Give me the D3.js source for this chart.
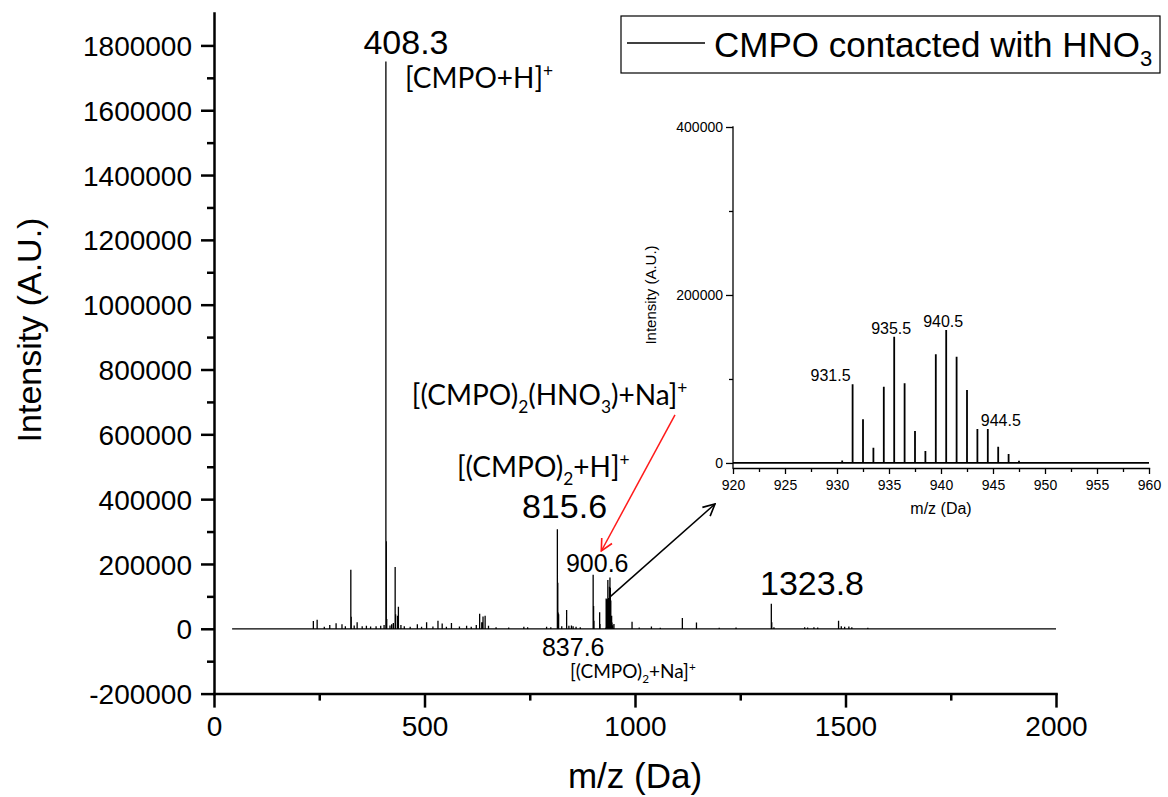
<!DOCTYPE html>
<html><head><meta charset="utf-8">
<script src="https://cdn.jsdelivr.net/npm/d3@7"></script>
<style>body{margin:0;background:#fff}</style>
</head><body><svg id="c" width="1168" height="797"></svg>
<script>
// ---------- data ----------
const mainMz = [236,245,262,275,290,304,312,325,326,333,340,352,362,372,385,396,404,408.3,409.3,410.3,418,422,426,430.3,431.3,436,438,444,452,466,483,493,505,520,532,542,552,564,583,600,611,623,631,636,639,644,652,670,700,736,745,790,800,815.6,816.6,817.6,818.6,826,837.6,843,849,853,860,870,900.6,901.6,902.6,916,917,950,993,1010,1039,1060,1112.5,1146,1200,1240,1323.8,1324.8,1330,1403,1410,1425,1434,1483.5,1490,1498,1508,1515,1553,1715,1735,1895];
const mainIntensity = [24000,28000,6000,12000,17000,14000,8000,182000,37000,10000,20000,8000,9000,7000,8000,9000,12000,1750000,270000,30000,10000,14000,18000,191000,45000,40000,68000,12000,8000,6000,14000,6000,20000,7000,25000,16000,6000,18000,7000,9000,6000,12000,46000,20000,38000,40000,9000,5000,4000,6000,5000,6000,5000,307000,142000,50000,45000,8000,58000,9000,10000,8000,6000,5000,167000,70000,25000,51000,15000,15000,22000,4000,7000,3000,33000,19000,3000,4000,77000,20000,5000,5000,4000,5000,4000,25000,8000,6000,7000,5000,3000,2000,2000,2000];
const clusterMz = [930.5,931.5,932.5,933.5,934.5,935.5,936.5,937.5,938.5,939.5,940.5,941.5,942.5,943.5,944.5,945.5,946.5,947.5];
const clusterIntensity = [3000,93700,52000,18200,90800,150400,94900,38100,14300,129400,158300,126600,86900,40500,40500,19400,10700,2500];
const spectrumStart = 43, spectrumEnd = 2000;
const insetStart = 920, insetEnd = 960;
const xTicks = [0,500,1000,1500,2000];
const xMinor = [250,750,1250,1750];
const yTicks = [-200000,0,200000,400000,600000,800000,1000000,1200000,1400000,1600000,1800000];
const yMinor = [-100000,100000,300000,500000,700000,900000,1100000,1300000,1500000,1700000];
const insetXTicks = [920,925,930,935,940,945,950,955,960];
const insetXMinor = [922.5,927.5,932.5,937.5,942.5,947.5,952.5,957.5];
const insetYTicks = [0,200000,400000];
const insetYMinor = [100000,300000];
const insetLabels = [[931.5,"931.5"],[935.5,"935.5"],[940.5,"940.5"],[944.5,"944.5"]];

// ---------- setup ----------
const svg = d3.select("#c");
const ARIAL = "'Liberation Sans', Arial, sans-serif";
const CAL = "Lato, 'Open Sans', sans-serif";
const fmt = d => String(Math.round(d));

const x = d3.scaleLinear().domain([0,2000]).range([214,1056]);
const y = d3.scaleLinear().domain([-200000,1900000]).range([693.6,13]);

const xi = d3.scaleLinear().domain([920,960]).range([733,1149]);
const yi = d3.scaleLinear().domain([-6000,400000]).range([468,127]);

function stickPoints(mz, inten, start, end, lo, hi){
  const pts = [[start,0]];
  const idx = d3.range(mz.length).filter(i=>mz[i]>=lo && mz[i]<=hi).sort((a,b)=>mz[a]-mz[b]);
  idx.forEach(i=>{pts.push([mz[i],0],[mz[i],inten[i]],[mz[i],0]);});
  pts.push([end,0]);
  return pts;
}

// ---------- main spectrum ----------
const allMz = mainMz.concat(clusterMz), allI = mainIntensity.concat(clusterIntensity);
const lineMain = d3.line().x(d=>x(d[0])).y(d=>y(d[1]));
svg.append("path").attr("d", lineMain(stickPoints(allMz, allI, spectrumStart, spectrumEnd, 0, 2000)))
  .attr("fill","none").attr("stroke","#000").attr("stroke-width",1.3);

// ---------- main axes ----------
function styleAxis(g, w, fs){
  g.selectAll("path.domain").attr("stroke","#000").attr("stroke-width",w).attr("stroke-linecap","square");
  g.selectAll(".tick line").attr("stroke","#000").attr("stroke-width",w);
  g.selectAll("text").attr("font-family",ARIAL).attr("font-size",fs).attr("fill","#000");
}
const gy = svg.append("g").attr("transform",`translate(${x(0)},0)`)
  .call(d3.axisLeft(y).tickValues(yTicks).tickFormat(fmt).tickSize(13).tickSizeOuter(0).tickPadding(9));
styleAxis(gy,2.5,28);
gy.selectAll("text").attr("dy","0.36em");
const gym = svg.append("g").attr("transform",`translate(${x(0)},0)`)
  .call(d3.axisLeft(y).tickValues(yMinor).tickFormat("").tickSize(7).tickSizeOuter(0));
styleAxis(gym,2.5,28); gym.select("path.domain").remove();

const gx = svg.append("g").attr("transform",`translate(0,${y(-200000)})`)
  .call(d3.axisBottom(x).tickValues(xTicks).tickFormat(fmt).tickSize(14).tickSizeOuter(0).tickPadding(9));
styleAxis(gx,2.5,28);
const gxm = svg.append("g").attr("transform",`translate(0,${y(-200000)})`)
  .call(d3.axisBottom(x).tickValues(xMinor).tickFormat("").tickSize(7).tickSizeOuter(0));
styleAxis(gxm,2.5,28); gxm.select("path.domain").remove();

svg.append("text").attr("transform","translate(41,330) rotate(-90)").attr("text-anchor","middle")
  .attr("font-family",ARIAL).attr("font-size",34).text("Intensity (A.U.)");
svg.append("text").attr("x",635).attr("y",788).attr("text-anchor","middle")
  .attr("font-family",ARIAL).attr("font-size",35).text("m/z (Da)");

// ---------- rich text helper ----------
function rich(xp, yp, segs, font, fs, anchor){
  const t = svg.append("text").attr("x",xp).attr("y",yp).attr("font-family",font).attr("font-size",fs)
    .attr("fill","#000").attr("text-anchor",anchor||"start");
  let shift = 0;
  segs.forEach(s=>{
    const [str, kind] = s;
    let target = kind==="sub" ? fs*0.28 : kind==="sup" ? -fs*0.38 : 0;
    t.append("tspan").attr("dy", target - shift).attr("font-size", kind ? fs*0.62 : fs).text(str);
    shift = target;
  });
  return t;
}

// ---------- annotations (positioned in data units) ----------
rich(x(456), y(1775000), [["408.3"]], ARIAL, 34, "middle");
rich(x(453.7), y(1670000), [["[CMPO+H]"],["+","sup"]], CAL, 28);
rich(x(470), y(691000), [["[(CMPO)"],["2","sub"],["(HNO"],["3","sub"],[")+Na]"],["+","sup"]], CAL, 28);
rich(x(577), y(468000), [["[(CMPO)"],["2","sub"],["+H]"],["+","sup"]], CAL, 28);
rich(x(731.5), y(342000), [["815.6"]], ARIAL, 34);
rich(x(836), y(176000), [["900.6"]], ARIAL, 25);
rich(x(779), y(-83300), [["837.6"]], ARIAL, 25);
rich(x(845.6), y(-151200), [["[(CMPO)"],["2","sub"],["+Na]"],["+","sup"]], CAL, 19);
rich(x(1297), y(105000), [["1323.8"]], ARIAL, 34);

// arrows
const defs = svg.append("defs");
function marker(id, col){
  defs.append("marker").attr("id",id).attr("viewBox","0 0 12 12").attr("refX",11).attr("refY",6)
    .attr("markerWidth",14).attr("markerHeight",14).attr("markerUnits","userSpaceOnUse").attr("orient","auto")
    .append("path").attr("d","M1,1 L11,6 L1,11").attr("fill","none").attr("stroke",col).attr("stroke-width",1.4);
}
marker("ar","#ff1a1a"); marker("ab","#000");
svg.append("line").attr("x1",x(1095)).attr("y1",y(660000)).attr("x2",x(920)).attr("y2",y(240000))
  .attr("stroke","#ff1a1a").attr("stroke-width",1.5).attr("marker-end","url(#ar)");
svg.append("line").attr("x1",x(942)).attr("y1",y(100000)).attr("x2",x(1190)).attr("y2",y(385000))
  .attr("stroke","#000").attr("stroke-width",1.5).attr("marker-end","url(#ab)");

// ---------- inset ----------
const lineIn = d3.line().x(d=>xi(d[0])).y(d=>yi(d[1]));
svg.append("path").attr("d", lineIn(stickPoints(clusterMz, clusterIntensity, insetStart, insetEnd, insetStart, insetEnd)))
  .attr("fill","none").attr("stroke","#000").attr("stroke-width",1.8);

const giy = svg.append("g").attr("transform",`translate(${xi(920)},0)`)
  .call(d3.axisLeft(yi).tickValues(insetYTicks).tickFormat(fmt).tickSize(7).tickSizeOuter(0).tickPadding(3));
styleAxis(giy,1.3,14);
giy.select("path.domain").attr("d",`M0,${yi(400000)}V${yi(-6000)}`);
const giym = svg.append("g").attr("transform",`translate(${xi(920)},0)`)
  .call(d3.axisLeft(yi).tickValues(insetYMinor).tickFormat("").tickSize(4).tickSizeOuter(0));
styleAxis(giym,1.3,14); giym.select("path.domain").remove();

const gix = svg.append("g").attr("transform",`translate(0,${yi(-6000)})`)
  .call(d3.axisBottom(xi).tickValues(insetXTicks).tickFormat(fmt).tickSize(6).tickSizeOuter(0).tickPadding(6));
styleAxis(gix,1.3,14);
const gixm = svg.append("g").attr("transform",`translate(0,${yi(-6000)})`)
  .call(d3.axisBottom(xi).tickValues(insetXMinor).tickFormat("").tickSize(4).tickSizeOuter(0));
styleAxis(gixm,1.3,14); gixm.select("path.domain").remove();

svg.append("text").attr("transform",`translate(656,${(yi(400000)+yi(0))/2}) rotate(-90)`).attr("text-anchor","middle")
  .attr("font-family",ARIAL).attr("font-size",15).text("Intensity (A.U.)");
svg.append("text").attr("x",(xi(920)+xi(960))/2).attr("y",514).attr("text-anchor","middle")
  .attr("font-family",ARIAL).attr("font-size",16).text("m/z (Da)");

insetLabels.forEach(([m,l])=>{
  const i = clusterMz.indexOf(m);
  svg.append("text").attr("x",xi(m)).attr("y",yi(clusterIntensity[i]) - 3)
    .attr("text-anchor", m===944.5 ? "start" : "middle").attr("dx", m===944.5 ? -7 : (m===931.5 ? -22 : -3))
    .attr("font-family",ARIAL).attr("font-size",16).text(l);
});

// ---------- legend ----------
svg.append("rect").attr("x",621).attr("y",16).attr("width",539).attr("height",57)
  .attr("fill","#fff").attr("stroke","#000").attr("stroke-width",1.2);
svg.append("line").attr("x1",627).attr("x2",705).attr("y1",43).attr("y2",43).attr("stroke","#000").attr("stroke-width",1.3);
const lt = svg.append("text").attr("x",714).attr("y",57).attr("font-family",ARIAL).attr("font-size",35);
lt.append("tspan").text("CMPO contacted with HNO");
lt.append("tspan").attr("dy",9).attr("font-size",22).text("3");
</script></body></html>
